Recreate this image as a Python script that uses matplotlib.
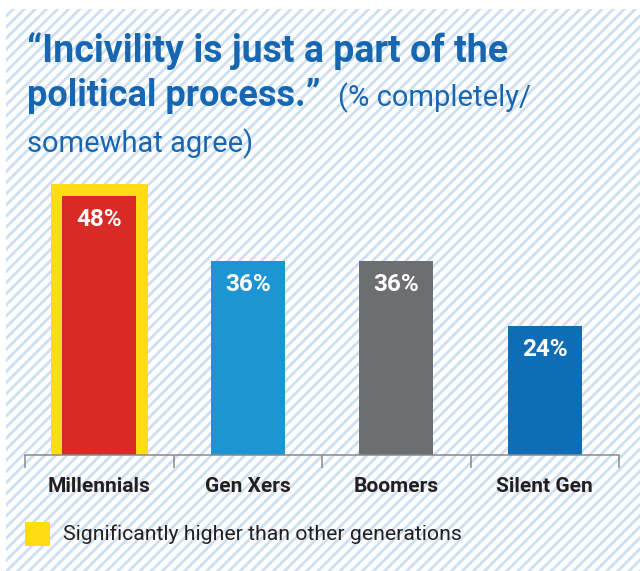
import matplotlib
matplotlib.use("Agg")
import matplotlib.pyplot as plt
from matplotlib.patches import Rectangle

plt.rcParams['font.family'] = ['Roboto', 'DejaVu Sans']
plt.rcParams['hatch.linewidth'] = 2.0

# Survey results (% completely/somewhat agree)
generations = ['Millennials', 'Gen Xers', 'Boomers', 'Silent Gen']
agree_pct = [48, 36, 36, 24]
bar_colors = ['#d92b25', '#1e95d3', '#6d6e72', '#0f6db5']
significant = [True, False, False, False]

title_blue = '#1666b1'
dark = '#231f20'
yellow = '#ffdc14'
axis_gray = '#8a8a8a'

fig = plt.figure(figsize=(6.4, 5.71), dpi=100)

# striped backdrop panel
bg = Rectangle((6 / 640, 0), 1, (571 - 9) / 571, transform=fig.transFigure,
               facecolor='white', edgecolor='#cddff1', hatch='///',
               linewidth=0, zorder=-5)
fig.patches.append(bg)

ax = fig.add_axes([25 / 640, 116 / 571, 594 / 640, 302 / 571])
ax.set_zorder(2)
ax.patch.set_visible(False)
ax.set_xlim(-0.5, len(generations) - 0.5)
ax.set_ylim(0, 56)

# yellow frame behind bars that differ significantly
for i, (v, sig) in enumerate(zip(agree_pct, significant)):
    if sig:
        ax.bar(i, v + 2.2, width=0.655, color=yellow, zorder=1)

ax.bar(range(len(generations)), agree_pct, width=0.5, color=bar_colors, zorder=2)

for i, v in enumerate(agree_pct):
    ax.text(i, v - 5.6, f'{v}%', ha='center', va='baseline', color='white',
            fontsize=17.5, fontweight='bold', zorder=3)

for side in ['top', 'right', 'left']:
    ax.spines[side].set_visible(False)
ax.spines['bottom'].set_color(axis_gray)
ax.spines['bottom'].set_linewidth(1.1)
ax.set_yticks([])

ax.set_xticks(range(len(generations)))
ax.set_xticklabels(generations, fontsize=15, fontweight='bold', color=dark)
ax.tick_params(axis='x', which='major', length=0, pad=16)
ax.set_xticks([i - 0.5 for i in range(len(generations) + 1)], minor=True)
ax.tick_params(axis='x', which='minor', length=9.5, width=1.1, color=axis_gray,
               direction='out')

# heading
fig.text(27 / 640, (571 - 62) / 571, '\u201cIncivility is just a part of the',
         fontsize=27, fontweight='bold', color=title_blue, va='baseline')
fig.text(27 / 640, (571 - 106) / 571, 'political process.\u201d',
         fontsize=26, fontweight='bold', color=title_blue, va='baseline')
fig.text(338 / 640, (571 - 106) / 571, '(% completely/',
         fontsize=21, color=title_blue, va='baseline')
fig.text(27 / 640, (571 - 152) / 571, 'somewhat agree)',
         fontsize=21, color=title_blue, va='baseline')

# legend key
key = Rectangle((25 / 640, (571 - 546) / 571), 25 / 640, 24 / 571,
                transform=fig.transFigure, facecolor=yellow, edgecolor='none')
fig.patches.append(key)
fig.text(63 / 640, (571 - 534) / 571, 'Significantly higher than other generations',
         fontsize=15.3, color=dark, va='center')

fig.savefig('out.png', dpi=100)
